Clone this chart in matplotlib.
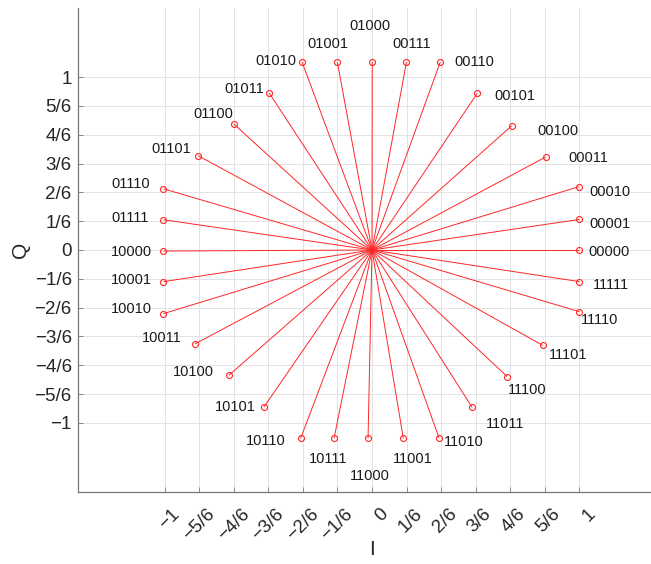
import matplotlib
matplotlib.use("Agg")
import matplotlib.pyplot as plt
from matplotlib.transforms import ScaledTranslation

plt.rcParams['font.family'] = ['Liberation Sans', 'DejaVu Sans']

# ---- data ----
codes = ['00000', '00001', '00010', '00011', '00100', '00101', '00110', '00111',
         '01000', '01001', '01010', '01011', '01100', '01101', '01110', '01111',
         '10000', '10001', '10010', '10011', '10100', '10101', '10110', '10111',
         '11000', '11001', '11010', '11011', '11100', '11101', '11110', '11111']
I_vals = [1.0, 1.0, 0.996, 0.837, 0.673, 0.507, 0.329, 0.166,
          0.001, -0.167, -0.337, -0.496, -0.667, -0.837, -1.005, -1.005,
          -1.005, -1.005, -1.005, -0.853, -0.689, -0.520, -0.344, -0.183,
          -0.019, 0.151, 0.323, 0.483, 0.651, 0.822, 1.0, 1.0]
Q_vals = [0.0, 0.177, 0.366, 0.538, 0.718, 0.906, 1.087, 1.087,
          1.087, 1.087, 1.087, 0.909, 0.730, 0.545, 0.354, 0.175,
          -0.006, -0.183, -0.368, -0.543, -0.724, -0.907, -1.090, -1.090,
          -1.090, -1.090, -1.087, -0.911, -0.732, -0.551, -0.357, -0.183]

tick_vals = [-1, -5/6, -4/6, -3/6, -2/6, -1/6, 0, 1/6, 2/6, 3/6, 4/6, 5/6, 1]
tick_labels = ['\u22121', '\u22125/6', '\u22124/6', '\u22123/6', '\u22122/6', '\u22121/6', '0',
               '1/6', '2/6', '3/6', '4/6', '5/6', '1']

# label offsets (pixels) relative to each point
lab_dx = [30, 30, 31, 43, 46, 38, 34, 5, -2, -9, -26, -25, -20, -27, -33, -33,
          -32, -32, -32, -33, -36, -29, -35, -6, 2, 9, 25, 33, 20, 26, 20, 31]
lab_dy = [-2, -5, -5, -1, -5, -3, 0, 18, 36, 18, 1, 4, 10, 7, 5, 2,
          -1, 2, 5, 6, 3, 0, -3, -21, -38, -21, -4, -17, -13, -10, -8, -3]

# ---- figure ----
fig = plt.figure(figsize=(6.51, 5.64), dpi=100)
ax = fig.add_axes([78/651, (564-492)/564, 588/651, 484/564])
ax.set_xlim(-1.417, 1.417)
ax.set_ylim(-1.4, 1.4)

red = '#ff2626'
for x, y in zip(I_vals, Q_vals):
    ax.plot([0, x], [0, y], color=red, lw=0.7, solid_capstyle='butt', zorder=3)
ax.plot(I_vals, Q_vals, 'o', ls='none', mfc='none', mec=red, ms=4.3, mew=0.8, zorder=4)

for c, x, y, dx, dy in zip(codes, I_vals, Q_vals, lab_dx, lab_dy):
    ax.annotate(c, xy=(x, y), xytext=(dx, dy), textcoords='offset pixels',
                ha='center', va='center', fontsize=10.5, color='#1a1a1a', zorder=5)

ax.set_xticks(tick_vals)
ax.set_xticklabels(tick_labels)
ax.set_yticks(tick_vals)
ax.set_yticklabels(tick_labels)

ax.grid(True, color='#e3e3e3', lw=0.7, zorder=0)
ax.set_axisbelow(True)

for s in ['top', 'right']:
    ax.spines[s].set_visible(False)
for s in ['left', 'bottom']:
    ax.spines[s].set_color('#777777')
    ax.spines[s].set_linewidth(0.9)

ax.tick_params(axis='both', direction='in', length=3.5, width=0.7, color='#888888',
               labelsize=13.5, labelcolor='#262626')
ax.tick_params(axis='y', pad=4.5)
ax.tick_params(axis='x', pad=14)

offset = ScaledTranslation(13/100, 0, fig.dpi_scale_trans)
for lbl in ax.get_xticklabels():
    lbl.set_rotation(45)
    lbl.set_rotation_mode('anchor')
    lbl.set_ha('right')
    lbl.set_va('center')
    lbl.set_transform(lbl.get_transform() + offset)

ax.set_xlabel('I', fontsize=15, color='#262626')
ax.xaxis.set_label_coords(0.5, -(540 - 492) / 484)
ax.set_ylabel('Q', fontsize=15, color='#262626')
ax.yaxis.set_label_coords(-(78 - 30) / 588, 0.5)

fig.savefig('out.png', dpi=100)
